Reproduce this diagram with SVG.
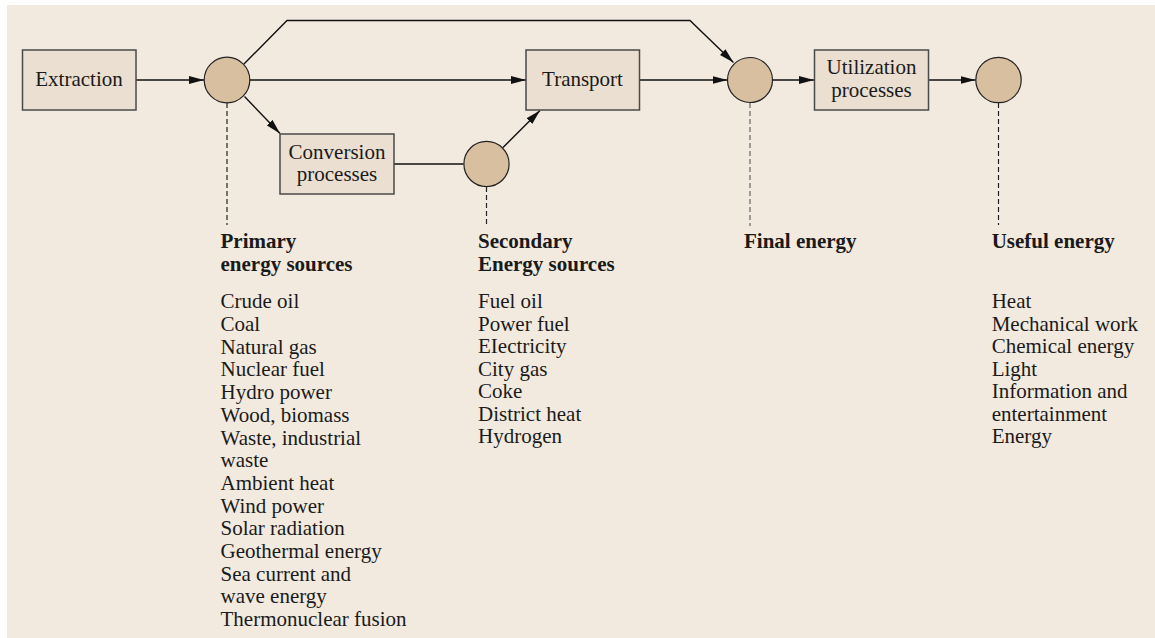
<svg xmlns="http://www.w3.org/2000/svg" width="1155" height="638" viewBox="0 0 1155 638">
<defs>
<style>
.bg{fill:#F2EADF}
.box{fill:#EBDFD1;stroke:#4a4a4a;stroke-width:1.5}
.node{fill:#D8BFA0;stroke:#222;stroke-width:1.2}
.line{fill:none;stroke:#111;stroke-width:1.4}
.dash{fill:none;stroke:#222;stroke-width:1.2;stroke-dasharray:5,3}
.dashg{fill:none;stroke:#777;stroke-width:1.4;stroke-dasharray:5,3}
text{font-family:"Liberation Serif","Times New Roman",serif;font-size:21px;fill:#1a1a1a}
.b{font-weight:bold}
.c{text-anchor:middle}
</style>
<marker id="arr" viewBox="0 0 15 8" refX="15" refY="4" markerWidth="15" markerHeight="8" markerUnits="userSpaceOnUse" orient="auto">
<path d="M0,0 L15,4 L0,8 z" fill="#111"/>
</marker>
</defs>
<rect x="7" y="5" width="1148" height="633" class="bg"/>
<g id="connectors">
<line class="line" x1="136" y1="80" x2="204" y2="80" marker-end="url(#arr)"/>
<polyline class="line" points="244,64 287,20.5 690,20.5 733.5,62.5" marker-end="url(#arr)"/>
<line class="line" x1="250" y1="80" x2="526" y2="80" marker-end="url(#arr)"/>
<line class="line" x1="244.5" y1="96.5" x2="280" y2="133.5" marker-end="url(#arr)"/>
<line class="line" x1="394" y1="164" x2="463.5" y2="164"/>
<line class="line" x1="503" y1="147.5" x2="540" y2="110.5" marker-end="url(#arr)"/>
<line class="line" x1="639" y1="80" x2="727.5" y2="80" marker-end="url(#arr)"/>
<line class="line" x1="772.5" y1="80" x2="814" y2="80" marker-end="url(#arr)"/>
<line class="line" x1="929" y1="80" x2="975.5" y2="80" marker-end="url(#arr)"/>
<line class="dash" x1="227" y1="103" x2="227" y2="225"/>
<line class="dash" x1="486.5" y1="187" x2="486.5" y2="225"/>
<line class="dashg" x1="750" y1="103" x2="750" y2="226"/>
<line class="dash" x1="998.5" y1="103" x2="998.5" y2="225"/>
</g>
<g id="extraction"><rect class="box" x="22.5" y="50" width="113.5" height="60"/><text class="c" x="79" y="86">Extraction</text></g>
<g id="primary"><circle class="node" cx="227" cy="80" r="22.8"/></g>
<g id="conversion"><rect class="box" x="280" y="134" width="114" height="60"/><text class="c" x="337" y="159">Conversion</text><text class="c" x="337" y="181">processes</text></g>
<g id="secondary"><circle class="node" cx="486.5" cy="164" r="22.6"/></g>
<g id="transport"><rect class="box" x="526" y="50" width="113.5" height="60"/><text class="c" x="582.5" y="86">Transport</text></g>
<g id="final"><circle class="node" cx="750" cy="80" r="22.5"/></g>
<g id="utilization"><rect class="box" x="814.5" y="50" width="114" height="60"/><text class="c" x="871.5" y="73.5">Utilization</text><text class="c" x="871.5" y="96.5">processes</text></g>
<g id="useful"><circle class="node" cx="998.5" cy="80" r="22.7"/></g>
<g id="label-primary">
<text class="b" x="220.5" y="248.3">Primary</text>
<text class="b" x="220.5" y="270.7">energy sources</text>
<text x="220.5" y="308.3">Crude oil</text>
<text x="220.5" y="331">Coal</text>
<text x="220.5" y="353.7">Natural gas</text>
<text x="220.5" y="376.4">Nuclear fuel</text>
<text x="220.5" y="399.1">Hydro power</text>
<text x="220.5" y="421.8">Wood, biomass</text>
<text x="220.5" y="444.5">Waste, industrial</text>
<text x="220.5" y="467.2">waste</text>
<text x="220.5" y="489.9">Ambient heat</text>
<text x="220.5" y="512.6">Wind power</text>
<text x="220.5" y="535.3">Solar radiation</text>
<text x="220.5" y="558">Geothermal energy</text>
<text x="220.5" y="580.7">Sea current and</text>
<text x="220.5" y="603.4">wave energy</text>
<text x="220.5" y="626.1">Thermonuclear fusion</text>
</g>
<g id="label-secondary">
<text class="b" x="478" y="248.3">Secondary</text>
<text class="b" x="478" y="270.7">Energy sources</text>
<text x="478" y="308.3">Fuel oil</text>
<text x="478" y="330.8">Power fuel</text>
<text x="478" y="353.3">EIectricity</text>
<text x="478" y="375.8">City gas</text>
<text x="478" y="398.3">Coke</text>
<text x="478" y="420.8">District heat</text>
<text x="478" y="443.3">Hydrogen</text>
</g>
<g id="label-final"><text class="b" x="744" y="248.3">Final energy</text></g>
<g id="label-useful">
<text class="b" x="991.7" y="248.3">Useful energy</text>
<text x="991.7" y="308.3">Heat</text>
<text x="991.7" y="330.8">Mechanical work</text>
<text x="991.7" y="353.3">Chemical energy</text>
<text x="991.7" y="375.8">Light</text>
<text x="991.7" y="398.3">Information and</text>
<text x="991.7" y="420.8">entertainment</text>
<text x="991.7" y="443.3">Energy</text>
</g>
</svg>
